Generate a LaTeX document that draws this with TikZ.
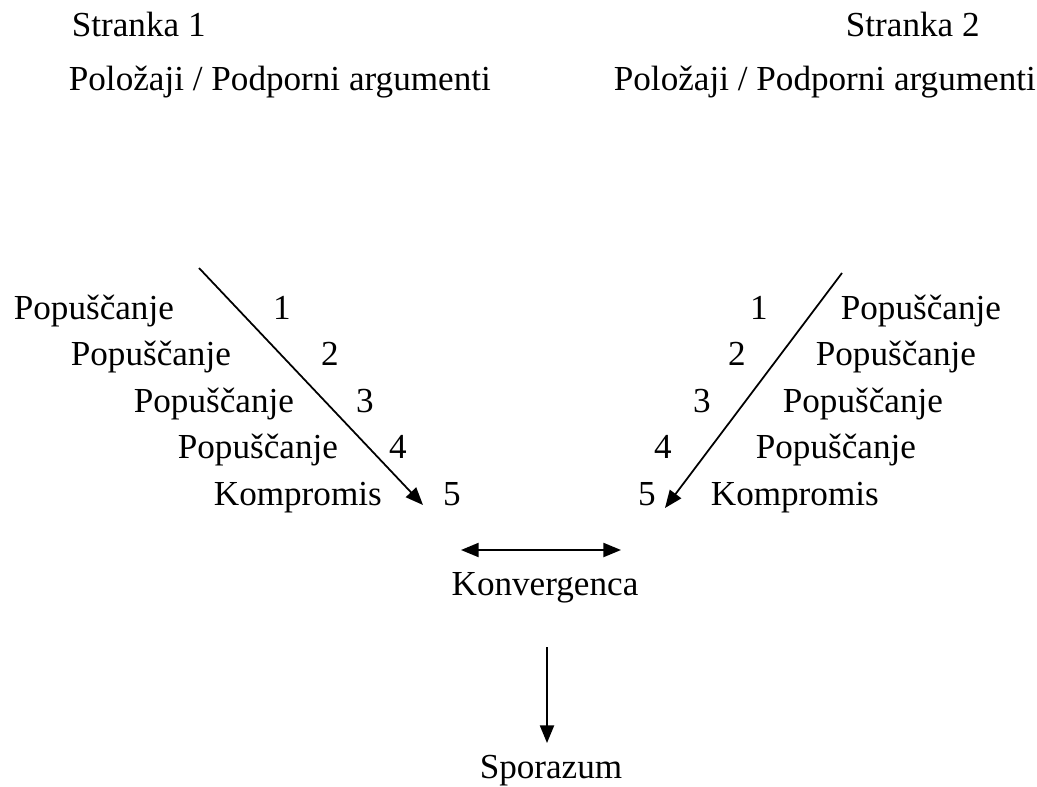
\documentclass[tikz,border=0pt]{standalone}
\usepackage{fontspec}
\setmainfont{Liberation Serif}
\usetikzlibrary{arrows.meta}

\begin{document}
\begin{tikzpicture}[x=0.02cm, y=-0.02cm, inner sep=0pt,
    every node/.style={font=\fontsize{20}{24}\selectfont},
    >={Triangle[length=10pt,width=8pt]}, line width=1pt]
      \useasboundingbox (0,0) rectangle (1037,787);

      % heads
      \node[anchor=base west] (str1) at (71, 37) {Stranka 1};
      \node[anchor=base west] (pol1) at (68, 91) {Položaji / Podporni argumenti};
      \node[anchor=base west] (str2) at (845, 37) {Stranka 2};
      \node[anchor=base west] (pol2) at (613, 91) {Položaji / Podporni argumenti};

      % left side
      \node[anchor=base west] (lpop1) at (13, 319) {Popuščanje};
      \node[anchor=base west] (lpop2) at (70, 365) {Popuščanje};
      \node[anchor=base west] (lpop3) at (133, 412) {Popuščanje};
      \node[anchor=base west] (lpop4) at (177, 458) {Popuščanje};
      \node[anchor=base west] (lkomp) at (213, 505) {Kompromis};
      \node[anchor=base] (ln1) at (282, 319) {1};
      \node[anchor=base] (ln2) at (330, 365) {2};
      \node[anchor=base] (ln3) at (365, 412) {3};
      \node[anchor=base] (ln4) at (398, 458) {4};
      \node[anchor=base] (ln5) at (452, 505) {5};

      % right side
      \node[anchor=base west] (rpop1) at (840, 319) {Popuščanje};
      \node[anchor=base west] (rpop2) at (815, 365) {Popuščanje};
      \node[anchor=base west] (rpop3) at (782, 412) {Popuščanje};
      \node[anchor=base west] (rpop4) at (755, 458) {Popuščanje};
      \node[anchor=base west] (rkomp) at (710, 505) {Kompromis};
      \node[anchor=base] (rn1) at (759, 319) {1};
      \node[anchor=base] (rn2) at (737, 365) {2};
      \node[anchor=base] (rn3) at (702, 412) {3};
      \node[anchor=base] (rn4) at (663, 458) {4};
      \node[anchor=base] (rn5) at (647, 505) {5};

      % bottom
      \node[anchor=base] (konv) at (545, 595) {Konvergenca};
      \node[anchor=base] (spor) at (551, 778) {Sporazum};

      \coordinate (ltop) at (199, 268);
      \coordinate (ltip) at (423, 505);
      \coordinate (rtop) at (842, 273);
      \coordinate (rtip) at (665, 508);
      \coordinate (konvl) at (461, 550);
      \coordinate (konvr) at (621, 550);
      \coordinate (down) at (547, 647);
      \coordinate (downtip) at (547, 743);

      \draw[->] (ltop) -- (ltip);
      \draw[->] (rtop) -- (rtip);
      \draw[<->] (konvl) -- (konvr);
      \draw[->] (down) -- (downtip);
    \end{tikzpicture}
\end{document}
